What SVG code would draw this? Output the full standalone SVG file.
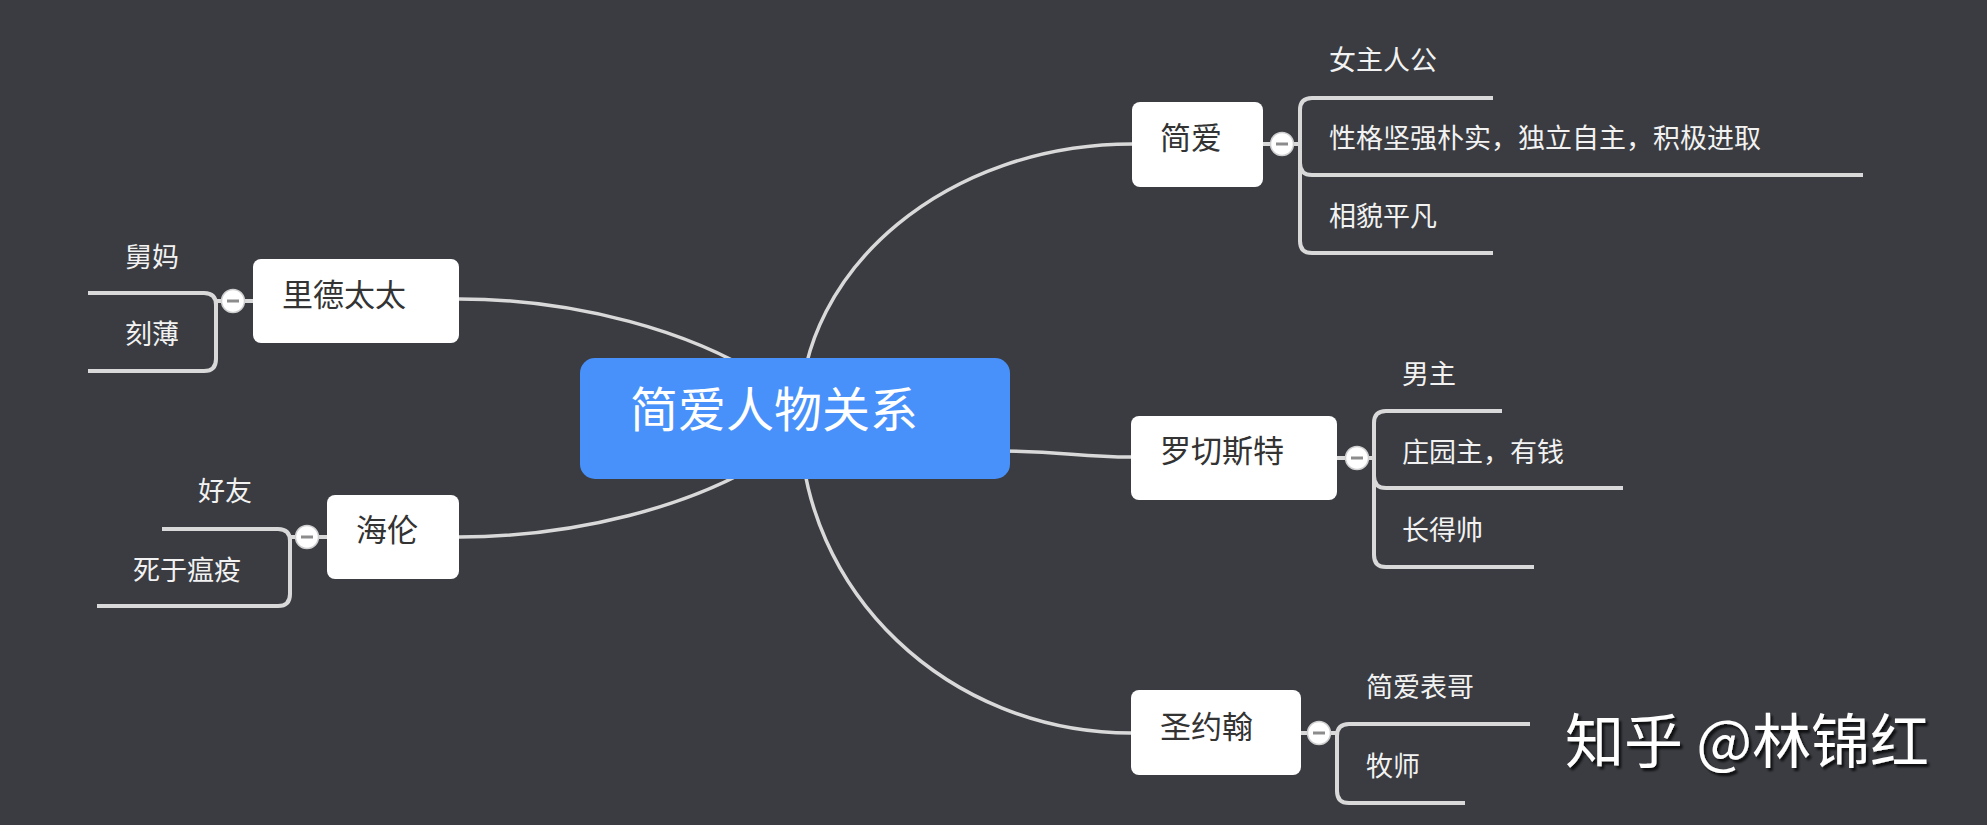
<svg xmlns="http://www.w3.org/2000/svg" width="1987" height="825" viewBox="0 0 1987 825">
<defs>
<style>
.bg{fill:#3a3c41}
.conn{fill:none;stroke:#d9d9d9;stroke-width:3.5;stroke-linecap:round}
.br{fill:none;stroke:#d9d9d9;stroke-width:4}
.node{fill:#ffffff}
.ntxt{font-family:"Noto Sans CJK SC","Noto Sans",sans-serif;font-size:31px;fill:#333333}
.sub{font-family:"Noto Sans CJK SC","Noto Sans",sans-serif;font-size:27px;fill:#f2f2f2}
.ctxt{font-family:"Noto Sans CJK SC","Noto Sans",sans-serif;font-size:48px;fill:#ffffff}
.btn{fill:#ffffff;stroke:#cfcfcf;stroke-width:1.5}
.minus{fill:#8c8c8c}
.wm{font-family:"Noto Sans CJK SC","Noto Sans",sans-serif;font-size:59px;fill:#ffffff}
</style>
<filter id="sh" x="-5%" y="-20%" width="110%" height="150%">
<feDropShadow dx="2.5" dy="3" stdDeviation="0.8" flood-color="#000000" flood-opacity="0.75"/>
</filter>
</defs>
<rect class="bg" x="0" y="0" width="1987" height="825"/>

<g id="connectors">
<path class="conn" d="M800,418 C800,267 949,144 1132,144"/>
<path class="conn" d="M1000,451 C1060,451 1080,457 1131,457"/>
<path class="conn" d="M800,418 C800,591 948,733 1131,733"/>
<path class="conn" d="M459,299 C560,299 700,325 795,400"/>
<path class="conn" d="M459,537 C560,537 700,512 795,440"/>
<!-- Jane branches -->
<path class="br" d="M1263,144 H1300"/>
<path class="br" d="M1300,144 V110 Q1300,98 1312,98 H1493"/>
<path class="br" d="M1300,144 V163 Q1300,175 1312,175 H1863"/>
<path class="br" d="M1300,144 V241 Q1300,253 1312,253 H1493"/>
<!-- Rochester branches -->
<path class="br" d="M1337,458 H1374"/>
<path class="br" d="M1374,458 V423 Q1374,411 1386,411 H1502"/>
<path class="br" d="M1374,458 V476 Q1374,488 1386,488 H1623"/>
<path class="br" d="M1374,458 V555 Q1374,567 1386,567 H1534"/>
<!-- St John branches -->
<path class="br" d="M1301,733 H1337"/>
<path class="br" d="M1337,733 V736 Q1337,724 1349,724 H1530"/>
<path class="br" d="M1337,733 V791 Q1337,803 1349,803 H1465"/>
<!-- Reed branches -->
<path class="br" d="M253,301 H216"/>
<path class="br" d="M216,301 V305 Q216,293 204,293 H88"/>
<path class="br" d="M216,301 V359 Q216,371 204,371 H88"/>
<!-- Helen branches -->
<path class="br" d="M327,537 H290"/>
<path class="br" d="M290,537 V541 Q290,529 278,529 H162"/>
<path class="br" d="M290,537 V594 Q290,606 278,606 H97"/>
</g>

<g id="central">
<rect x="580" y="358" width="430" height="121" rx="15" fill="#4891fa"/>
<text class="ctxt" x="630" y="427">简爱人物关系</text>
</g>

<g id="jane">
<rect class="node" x="1132" y="102" width="131" height="85" rx="8"/>
<text class="ntxt" x="1160" y="149">简爱</text>
<circle class="btn" cx="1282" cy="144" r="11.5"/><rect class="minus" x="1276" y="142.5" width="12" height="3"/>
<text class="sub" x="1329" y="70">女主人公</text>
<text class="sub" x="1329" y="148">性格坚强朴实，独立自主，积极进取</text>
<text class="sub" x="1329" y="226">相貌平凡</text>
</g>

<g id="rochester">
<rect class="node" x="1131" y="416" width="206" height="84" rx="8"/>
<text class="ntxt" x="1160" y="462">罗切斯特</text>
<circle class="btn" cx="1357" cy="458" r="11.5"/><rect class="minus" x="1351" y="456.5" width="12" height="3"/>
<text class="sub" x="1402" y="384">男主</text>
<text class="sub" x="1402" y="462">庄园主，有钱</text>
<text class="sub" x="1402" y="540">长得帅</text>
</g>

<g id="stjohn">
<rect class="node" x="1131" y="690" width="170" height="85" rx="8"/>
<text class="ntxt" x="1160" y="738">圣约翰</text>
<circle class="btn" cx="1319" cy="733" r="11.5"/><rect class="minus" x="1313" y="731.5" width="12" height="3"/>
<text class="sub" x="1366" y="697">简爱表哥</text>
<text class="sub" x="1366" y="776">牧师</text>
</g>

<g id="reed">
<rect class="node" x="253" y="259" width="206" height="84" rx="8"/>
<text class="ntxt" x="282" y="306">里德太太</text>
<circle class="btn" cx="233" cy="301" r="11.5"/><rect class="minus" x="227" y="299.5" width="12" height="3"/>
<text class="sub" x="125" y="267">舅妈</text>
<text class="sub" x="125" y="344">刻薄</text>
</g>

<g id="helen">
<rect class="node" x="327" y="495" width="132" height="84" rx="8"/>
<text class="ntxt" x="356" y="541">海伦</text>
<circle class="btn" cx="307" cy="537" r="11.5"/><rect class="minus" x="301" y="535.5" width="12" height="3"/>
<text class="sub" x="198" y="501">好友</text>
<text class="sub" x="133" y="580">死于瘟疫</text>
</g>

<g id="watermark" filter="url(#sh)">
<text class="wm" x="1565" y="763">知乎 @林锦红</text>
</g>
</svg>
